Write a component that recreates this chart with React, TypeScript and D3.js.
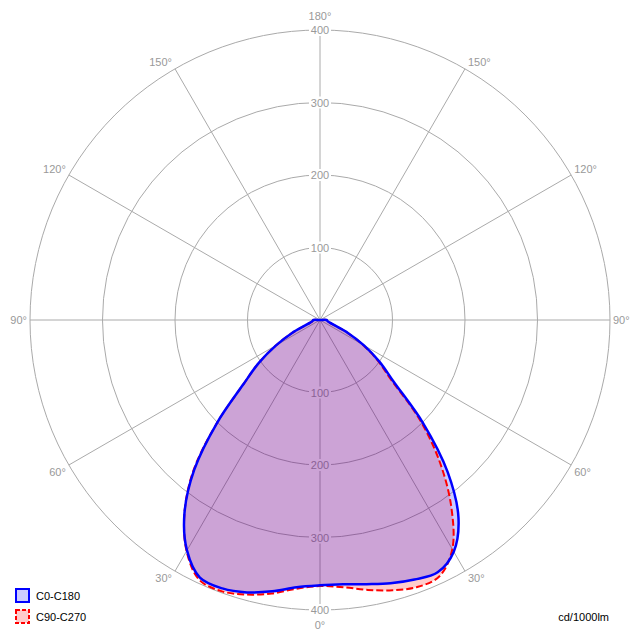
import React from 'react';
import * as d3 from 'd3';

// Photometric data (cd/1000lm), gamma angles 0..90 (0 = straight down)
const gammaAngles = [0, 5, 10, 15, 20, 25, 30, 35, 40, 45, 50, 55, 60, 65, 70, 75, 80, 85, 90];
// C0-C180 plane (blue): C0 drawn on right half, C180 on left half
const c0Values = [366, 366, 370, 376, 381, 384, 369, 333, 274, 201, 133, 100, 70, 43, 21, 14, 11, 10, 9];
const c180Values = [366, 370, 380, 389, 394, 392, 367, 326, 270, 201, 138, 103, 70, 43, 21, 14, 11, 10, 9];
// C90-C270 plane (red): C90 on right half, C270 on left half
const c90Values = [367, 370, 378, 386, 392, 390, 365, 316, 258, 195, 128, 97, 68, 42, 21, 14, 11, 10, 9];
const c270Values = [367, 372, 383, 392, 398, 395, 368, 326, 272, 201, 138, 103, 70, 43, 21, 14, 11, 10, 9];

const ringValues = [100, 200, 300, 400];
const spokeAngles = [0, 30, 60, 90, 120, 150, 180];
const legendLabels = ['C0-C180', 'C90-C270'];
const unitLabel = 'cd/1000lm';

const W = 640;
const H = 640;
const cx = 320;
const cy = 320;
const R = 290;
const FONT = '"Liberation Sans", Arial, sans-serif';

const rScale = d3.scaleLinear().domain([0, 400]).range([0, R]);
const toRad = (deg: number) => (deg * Math.PI) / 180;

type P = [number, number];

function buildPoints(right: number[], left: number[]): P[] {
  const pts: P[] = [];
  for (let i = gammaAngles.length - 1; i >= 1; i--) {
    pts.push([Math.PI + toRad(gammaAngles[i]), rScale(left[i])]);
  }
  pts.push([Math.PI, rScale((left[0] + right[0]) / 2)]);
  for (let i = 1; i < gammaAngles.length; i++) {
    pts.push([Math.PI - toRad(gammaAngles[i]), rScale(right[i])]);
  }
  pts.push([0, 0]);
  return pts;
}

const radialLine = d3
  .lineRadial<P>()
  .angle((d) => d[0])
  .radius((d) => d[1])
  .curve(d3.curveCatmullRomClosed.alpha(0.5));

function polar(theta: number, side: number, rad: number): [number, number] {
  return [cx + side * rad * Math.sin(toRad(theta)), cy + rad * Math.cos(toRad(theta))];
}

export default function App() {
  const bluePath = radialLine(buildPoints(c0Values, c180Values)) || '';
  const redPath = radialLine(buildPoints(c90Values, c270Values)) || '';

  const spokes: { x: number; y: number; key: string }[] = [];
  spokeAngles.forEach((a) => {
    [1, -1].forEach((s) => {
      if ((a === 0 || a === 180) && s === -1) return;
      const [x, y] = polar(a, s, R);
      spokes.push({ x, y, key: `${a}_${s}` });
    });
  });

  const angleLabels: { x: number; y: number; anchor: string; text: string; key: string }[] = [];
  spokeAngles.forEach((a) => {
    if (a === 0) {
      angleLabels.push({ x: cx, y: cy + R + 15, anchor: 'middle', text: `${a}°`, key: 'l0' });
      return;
    }
    if (a === 180) {
      angleLabels.push({ x: cx, y: cy - R - 14, anchor: 'middle', text: `${a}°`, key: 'l180' });
      return;
    }
    [1, -1].forEach((s) => {
      const [px, py] = polar(a, s, R);
      const dy = a < 90 ? 6.5 : a > 90 ? -6.5 : 0;
      angleLabels.push({
        x: px + s * 3,
        y: py + dy,
        anchor: s === 1 ? 'start' : 'end',
        text: `${a}°`,
        key: `l${a}_${s}`,
      });
    });
  });

  const ringLabels: { x: number; y: number; text: string; key: string }[] = [];
  ringValues.forEach((v) => {
    ringLabels.push({ x: cx, y: cy - rScale(v), text: String(v), key: `t${v}` });
    ringLabels.push({ x: cx, y: cy + rScale(v), text: String(v), key: `b${v}` });
  });

  return (
    <svg
      width={W}
      height={H}
      viewBox={`0 0 ${W} ${H}`}
      style={{ position: 'absolute', left: 0, top: 0, background: '#fff' }}
    >
      <rect x={0} y={0} width={W} height={H} fill="#fff" />
      {/* grid */}
      <g stroke="#aaaaaa" strokeWidth={1} fill="none">
        {ringValues.map((v) => (
          <circle key={v} cx={cx} cy={cy} r={rScale(v)} />
        ))}
        {spokes.map((s) => (
          <line key={s.key} x1={cx} y1={cy} x2={s.x} y2={s.y} />
        ))}
      </g>
      {/* ring value labels */}
      <g fontFamily={FONT} fontSize={11}>
        {ringLabels.map((l) => (
          <g key={l.key}>
            <rect x={l.x - 11} y={l.y - 6} width={22} height={12} fill="#fff" />
            <text x={l.x} y={l.y} textAnchor="middle" dominantBaseline="central" fill="#999">
              {l.text}
            </text>
          </g>
        ))}
      </g>
      {/* angle labels */}
      <g fontFamily={FONT} fontSize={11} fill="#999">
        {angleLabels.map((l) => (
          <text key={l.key} x={l.x} y={l.y} textAnchor={l.anchor as any} dominantBaseline="central">
            {l.text}
          </text>
        ))}
      </g>
      {/* curves */}
      <path d={redPath} fill="rgba(255,0,0,0.2)" stroke="none" transform={`translate(${cx},${cy})`} />
      <path d={bluePath} fill="rgba(0,0,255,0.2)" stroke="none" transform={`translate(${cx},${cy})`} />
      <path
        d={redPath}
        fill="none"
        stroke="#ff0000"
        strokeWidth={2}
        strokeDasharray="7,3"
        transform={`translate(${cx},${cy})`}
      />
      <path d={bluePath} fill="none" stroke="#0000ff" strokeWidth={2.5} transform={`translate(${cx},${cy})`} />
      {/* legend */}
      <g fontFamily={FONT} fontSize={11}>
        <rect x={16} y={589} width={13} height={13} fill="#ccccff" stroke="#0000ff" strokeWidth={2} />
        <text x={36} y={596} dominantBaseline="central" fill="#000">
          {legendLabels[0]}
        </text>
        <rect
          x={16}
          y={610}
          width={13}
          height={13}
          fill="#ffcccc"
          stroke="#ff0000"
          strokeWidth={2}
          strokeDasharray="4,2"
        />
        <text x={36} y={617} dominantBaseline="central" fill="#000">
          {legendLabels[1]}
        </text>
        <text x={609} y={617} textAnchor="end" dominantBaseline="central" fill="#000">
          {unitLabel}
        </text>
      </g>
    </svg>
  );
}
